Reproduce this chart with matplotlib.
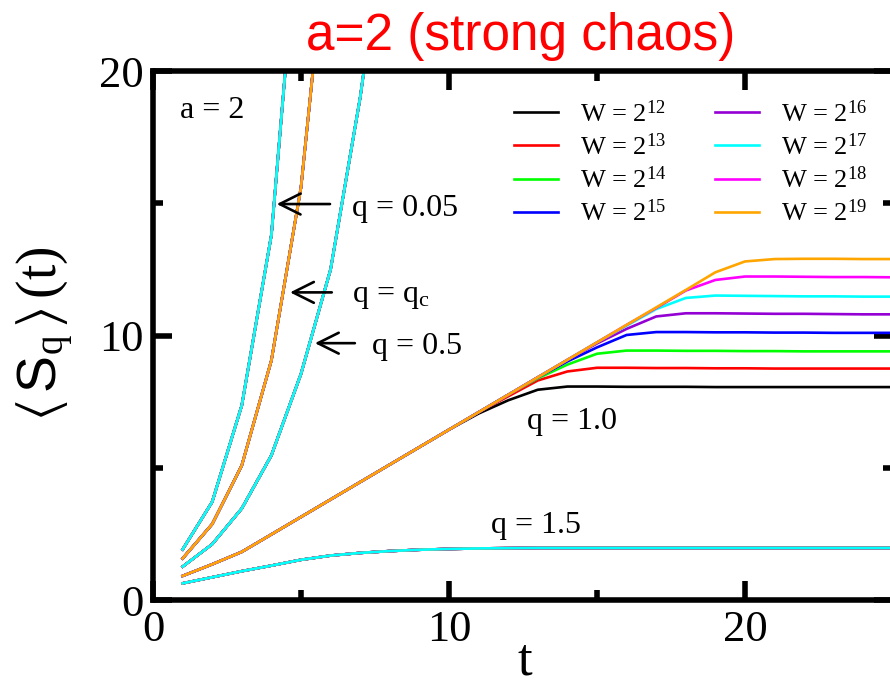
import numpy as np
import matplotlib
matplotlib.use("Agg")
import matplotlib.pyplot as plt
from matplotlib.lines import Line2D

plt.rcParams["font.family"] = ["Liberation Serif", "DejaVu Serif"]
plt.rcParams["mathtext.fontset"] = "custom"
plt.rcParams["mathtext.rm"] = "Liberation Serif"
plt.rcParams["mathtext.it"] = "Liberation Serif:italic"
plt.rcParams["mathtext.sf"] = "Liberation Sans"
plt.rcParams["mathtext.fallback"] = "stix"

# time steps
t = np.arange(1, 26)

# <S_q>(t) for q = 1.0, one series per system size W = 2^12 ... 2^19
s_w12 = [0.91, 1.35, 1.82, 2.48, 3.14, 3.80, 4.46, 5.12, 5.78, 6.44, 7.05, 7.55, 7.95,
         8.07, 8.07, 8.06, 8.06, 8.06, 8.05, 8.05, 8.05, 8.05, 8.05, 8.05, 8.05]
s_w13 = [0.91, 1.35, 1.82, 2.48, 3.14, 3.80, 4.46, 5.12, 5.78, 6.44, 7.10, 7.70, 8.30,
         8.64, 8.78, 8.78, 8.77, 8.77, 8.76, 8.76, 8.75, 8.75, 8.75, 8.75, 8.75]
s_w14 = [0.91, 1.35, 1.82, 2.48, 3.14, 3.80, 4.46, 5.12, 5.78, 6.44, 7.10, 7.76, 8.38,
         8.90, 9.31, 9.43, 9.43, 9.42, 9.42, 9.41, 9.41, 9.40, 9.40, 9.40, 9.40]
s_w15 = [0.91, 1.35, 1.82, 2.48, 3.14, 3.80, 4.46, 5.12, 5.78, 6.44, 7.10, 7.76, 8.42,
         9.02, 9.55, 10.02, 10.13, 10.13, 10.12, 10.12, 10.11, 10.11, 10.10, 10.10, 10.10]
s_w16 = [0.91, 1.35, 1.82, 2.48, 3.14, 3.80, 4.46, 5.12, 5.78, 6.44, 7.10, 7.76, 8.42,
         9.08, 9.70, 10.25, 10.72, 10.84, 10.84, 10.83, 10.82, 10.82, 10.81, 10.80, 10.80]
s_w17 = [0.91, 1.35, 1.82, 2.48, 3.14, 3.80, 4.46, 5.12, 5.78, 6.44, 7.10, 7.76, 8.42,
         9.08, 9.74, 10.37, 11.00, 11.42, 11.51, 11.50, 11.49, 11.48, 11.48, 11.47, 11.47]
s_w18 = [0.91, 1.35, 1.82, 2.48, 3.14, 3.80, 4.46, 5.12, 5.78, 6.44, 7.10, 7.76, 8.42,
         9.08, 9.74, 10.40, 11.04, 11.70, 12.10, 12.23, 12.23, 12.22, 12.21, 12.21, 12.20]
s_w19 = [0.91, 1.35, 1.82, 2.48, 3.14, 3.80, 4.46, 5.12, 5.78, 6.44, 7.10, 7.76, 8.42,
         9.08, 9.74, 10.40, 11.06, 11.72, 12.39, 12.80, 12.89, 12.90, 12.90, 12.89, 12.89]
s_q1 = [s_w12, s_w13, s_w14, s_w15, s_w16, s_w17, s_w18, s_w19]

# curves that do not depend on W (all sizes collapse)
s_q005 = [1.91, 3.71, 7.36, 13.8, 27.0]
s_qc = [1.57, 2.87, 5.09, 9.06, 15.6, 26.5]
s_q05 = [1.26, 2.11, 3.46, 5.47, 8.55, 12.5, 19.0, 27.0]
s_q15 = [0.63, 0.86, 1.09, 1.30, 1.52, 1.68, 1.78, 1.85, 1.90, 1.93, 1.95, 1.96, 1.97,
         1.97, 1.97, 1.97, 1.97, 1.97, 1.97, 1.97, 1.97, 1.97, 1.97, 1.97, 1.97]

w_exponents = [12, 13, 14, 15, 16, 17, 18, 19]
colors = ["black", "red", "#00ff00", "blue", "#9400d3", "cyan", "magenta", "orange"]
LW = 1.9

fig = plt.figure(figsize=(8.9, 6.87), dpi=100)
ax = fig.add_axes([153 / 890, 87 / 687, 740 / 890, 529 / 687])

# q = 1.0 : size dependent saturation
for s, c in zip(s_q1, colors):
    ax.plot(t, s, color=c, lw=LW)

# size independent curves, top colour drawn last
for s, top in [(s_q005, 5), (s_qc, 7), (s_q05, 5), (s_q15, 5)]:
    order = [i for i in range(8) if i != top] + [top]
    for i in order:
        ax.plot(t[:len(s)], s, color=colors[i], lw=LW)

ax.set_xlim(0, 25)
ax.set_ylim(0, 20)
ax.set_xticks([0, 10, 20])
ax.set_yticks([0, 10, 20])
ax.set_xticks([5, 15], minor=True)
ax.set_yticks([5, 15], minor=True)
ax.tick_params(which="both", direction="in", top=True, right=True, width=4,
               labelsize=32, pad=7)
ax.tick_params(which="major", length=14)
ax.tick_params(which="minor", length=7)
for sp in ax.spines.values():
    sp.set_linewidth(4)

ax.set_xlabel("t", fontsize=38)
ax.xaxis.label.set_va("baseline")
ax.xaxis.set_label_coords(0.503, -0.1399)
ax.set_ylabel(r"$\langle\,\mathsf{S}_{\mathrm{q}}\,\rangle\,\mathrm{(t)}$", fontsize=40)
ax.yaxis.label.set_va("baseline")
ax.yaxis.set_label_coords(-0.1297, 0.503)

# annotations
ax.text(0.91, 18.24, "a = 2", fontsize=23)
arrow = dict(arrowstyle="->,head_length=1.5,head_width=0.75", lw=1.9, color="black",
             shrinkA=0, shrinkB=0, mutation_scale=10)
ax.annotate("", xy=(4.18, 14.97), xytext=(5.98, 14.97), arrowprops=arrow)
ax.annotate("", xy=(4.63, 11.63), xytext=(6.04, 11.63), arrowprops=arrow)
ax.annotate("", xy=(5.47, 9.71), xytext=(6.82, 9.71), arrowprops=arrow)
ax.text(6.71, 14.53, "q = 0.05", fontsize=23)
ax.text(6.71, 11.26, r"q = q$_\mathrm{c}$", fontsize=23)
ax.text(7.39, 9.31, "q = 0.5", fontsize=23)
ax.text(12.65, 6.48, "q = 1.0", fontsize=23)
ax.text(11.41, 2.52, "q = 1.5", fontsize=23)

handles = [Line2D([], [], color=c, lw=LW) for c in colors]
labels = [rf"W = 2$^{{{e}}}$" for e in w_exponents]
ax.legend(handles, labels, ncol=2, frameon=False, fontsize=19, loc="upper left",
          bbox_to_anchor=(0.4878, 0.945), borderpad=0, borderaxespad=0,
          handlelength=1.67, handletextpad=0.83, columnspacing=1.83, labelspacing=0.25)

fig.text(521 / 890, (687 - 50) / 687, "a=2 (strong chaos)", color="red", fontsize=37,
         family="Liberation Sans", ha="center", va="baseline")

fig.savefig("out.png", dpi=100)
